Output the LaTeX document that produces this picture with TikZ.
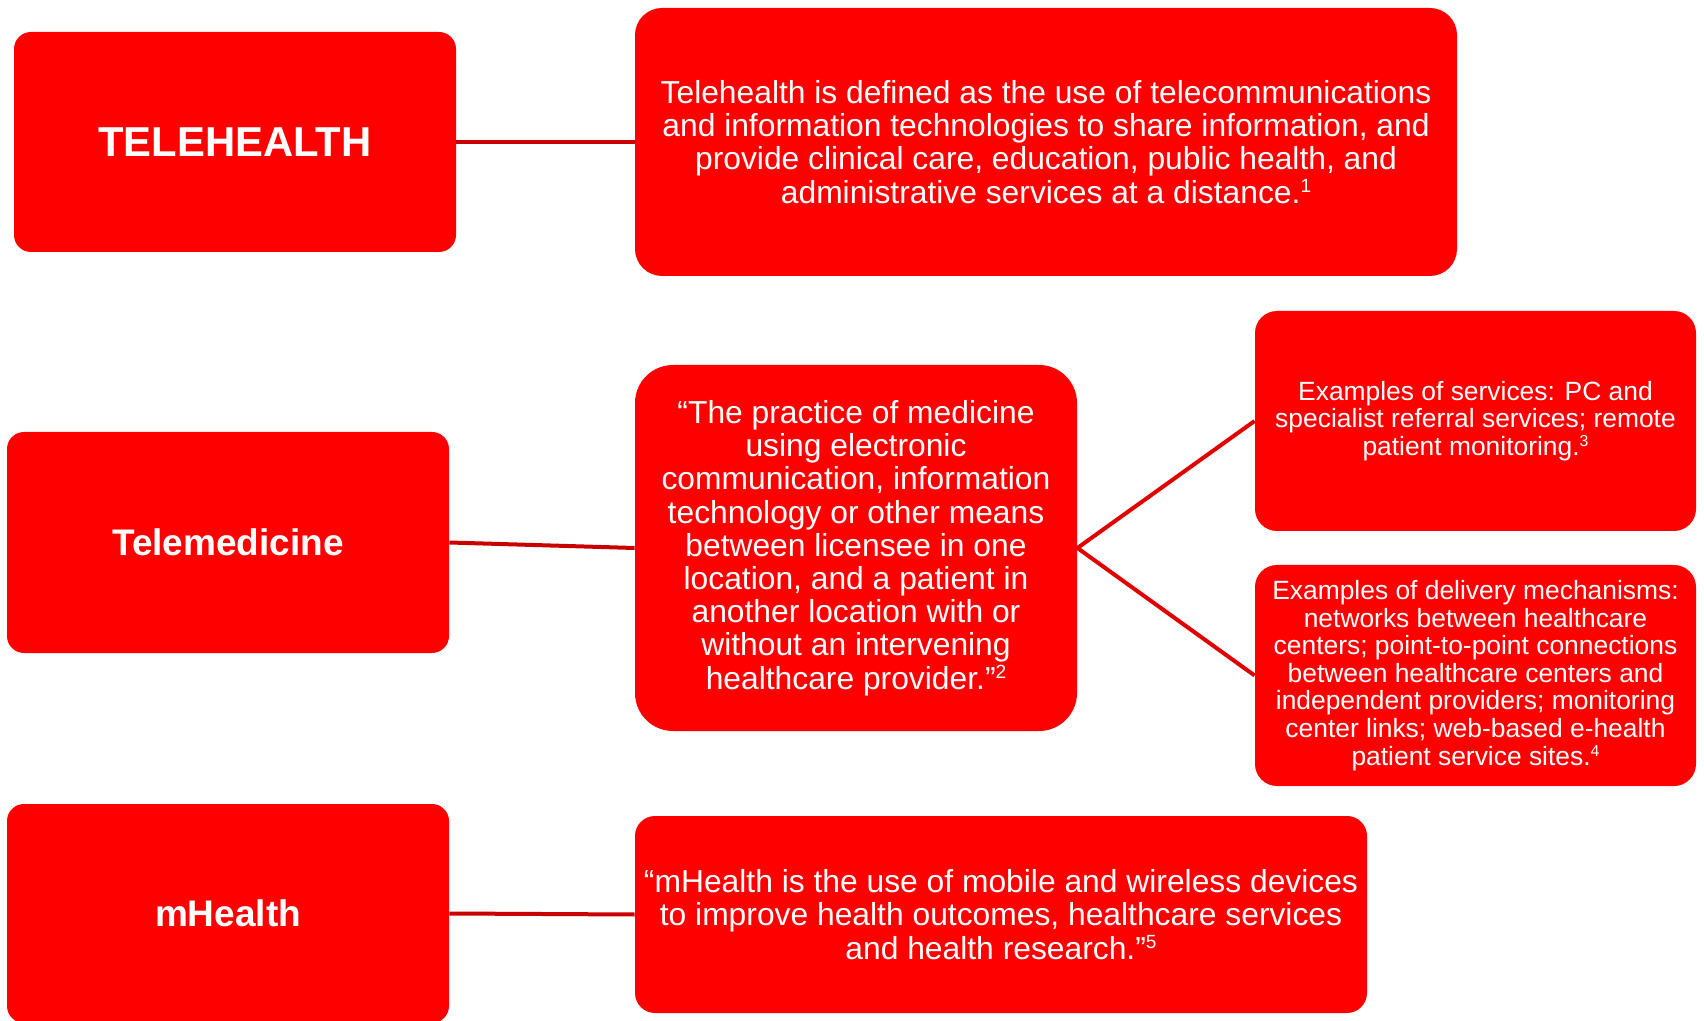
\documentclass[tikz,border=0pt]{standalone}
\usepackage{fontspec}
\setmainfont{Liberation Sans}
\definecolor{boxred}{RGB}{255,0,0}
\definecolor{linkred}{RGB}{200,0,0}
% reference marks: small, lightly raised, and not widening the line spacing
\makeatletter
\newcommand{\refmark}[1]{%
  \smash{\raisebox{0.32em}{\@tempdima=\f@size pt\@tempdima=0.6\@tempdima
    \fontsize{\the\@tempdima}{\the\@tempdima}\selectfont #1}}}
\makeatother
\begin{document}
\begin{tikzpicture}[x=0.5pt,y=-0.5pt,
  card/.style={fill=boxred, text=white, rounded corners=#1, inner sep=0pt, align=center},
  card/.default=9pt,
  term/.style={card=8.5pt, minimum width=221pt, minimum height=110pt, font=\fontsize{18.5}{22}\selectfont\bfseries},
  deftext/.style={font=\fontsize{15.9}{16.6}\selectfont},
  smalltext/.style={font=\fontsize{13.2}{13.8}\selectfont},
  link/.style={draw=linkred, line width=2pt}
]
\useasboundingbox (0,0) rectangle (1704,1021);
\clip (0,0) rectangle (1704,1021);

% left column: the three terms
\node[term, font=\fontsize{20.9}{25}\selectfont\bfseries] (th) at (235,142) {TELEHEALTH};
\node[term, minimum height=110.5pt] (tm) at (228,542.5) {Telemedicine};
\node[term, minimum height=109.5pt] (mh) at (228,913.5) {mHealth};

% definitions
\node[card=13.5pt, deftext, minimum width=411pt, minimum height=134pt] (thd) at (1046,142)
  {Telehealth is defined as the use of telecommunications\\
   and information technologies to share information, and\\
   provide clinical care, education, public health, and\\
   administrative services at a distance.\refmark{1}};

\node[card=19pt, deftext, minimum width=221pt, minimum height=183pt] (tmd) at (856,548)
  {“The practice of medicine\\
   using electronic\\
   communication, information\\
   technology or other means\\
   between licensee in one\\
   location, and a patient in\\
   another location with or\\
   without an intervening\\
   healthcare provider.”\refmark{2}};

\node[card=10pt, deftext, minimum width=366pt, minimum height=98.5pt] (mhd) at (1001,914.5)
  {“mHealth is the use of mobile and wireless devices\\
   to improve health outcomes, healthcare services\\
   and health research.”\refmark{5}};

% telemedicine examples
\node[card=11pt, smalltext, minimum width=220.5pt, minimum height=110pt] (svc) at (1475.5,421)
  {Examples of services: PC and\\
   specialist referral services; remote\\
   patient monitoring.\refmark{3}};

\node[card=11pt, smalltext, minimum width=220.5pt, minimum height=110.5pt] (dlv) at (1475.5,675.5)
  {Examples of delivery mechanisms:\\
   networks between healthcare\\
   centers; point-to-point connections\\
   between healthcare centers and\\
   independent providers; monitoring\\
   center links; web-based e-health\\
   patient service sites.\refmark{4}};

% connectors
\draw[link] (th.east) -- (thd.west);
\draw[link] (tm.east) -- (tmd.west);
\draw[link] (mh.east) -- (mhd.west);
\draw[link, draw=red!88!black] (tmd.east) -- (svc.west);
\draw[link, draw=red!88!black] (tmd.east) -- (dlv.west);
\end{tikzpicture}
\end{document}
